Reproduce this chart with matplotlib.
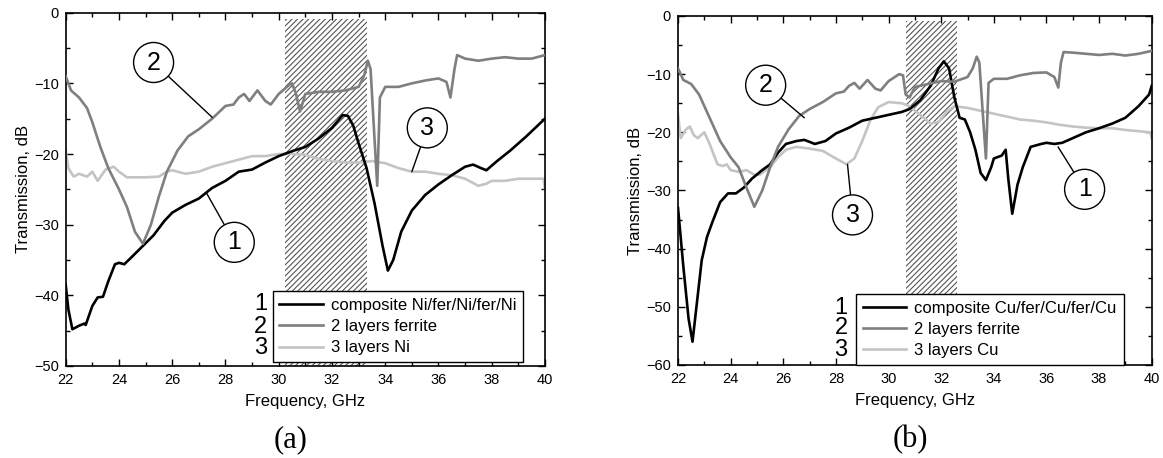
import numpy as np
import matplotlib.pyplot as plt
from matplotlib.patches import Rectangle
from matplotlib.ticker import MultipleLocator

plt.rcParams['font.family'] = ['Liberation Sans', 'DejaVu Sans']
plt.rcParams['hatch.linewidth'] = 0.8

# ---- panel (a) : Ni composite ----
a_comp_f = [22.0, 22.1, 22.25, 22.5, 22.7, 22.75, 23.0, 23.2, 23.4, 23.6, 23.85, 24.0, 24.2, 24.5,
            24.9, 25.3, 25.7, 26.0, 26.5, 27.0, 27.5, 28.0, 28.5, 29.0, 29.5, 30.0, 30.5, 31.0,
            31.5, 32.0, 32.4, 32.6, 32.8, 33.0, 33.3, 33.6, 33.9, 34.1, 34.3, 34.6, 35.0, 35.5,
            36.0, 36.5, 37.0, 37.3, 37.6, 37.8, 38.2, 38.7, 39.3, 40.0]
a_comp_db = [-38.5, -42, -44.8, -44.3, -44, -44.2, -41.5, -40.3, -40.2, -38, -35.6, -35.4, -35.6, -34.5,
             -33, -31.5, -29.5, -28.3, -27.2, -26.3, -24.8, -23.8, -22.5, -22.2, -21.2, -20.3, -19.6, -19,
             -17.8, -16.3, -14.5, -14.6, -16, -18.5, -22, -27, -33, -36.5, -35, -31, -28, -25.8,
             -24.3, -23, -21.8, -21.5, -22, -22.3, -21, -19.5, -17.5, -15]

a_fer_f = [22.0, 22.2, 22.5, 22.8, 23.0, 23.3, 23.6, 24.0, 24.3, 24.6, 24.9, 25.2, 25.5, 25.8, 26.2,
           26.6, 27.0, 27.5, 28.0, 28.3, 28.5, 28.7, 28.9, 29.2, 29.5, 29.7, 30.0, 30.4, 30.5, 30.65,
           30.8, 31.0, 31.5, 32.0, 32.5, 33.0, 33.2, 33.35, 33.45, 33.6, 33.7, 33.8, 34.0, 34.5, 35.0,
           35.5, 36.0, 36.3, 36.45, 36.6, 36.7, 37.0, 37.5, 38.0, 38.5, 39.0, 39.5, 40.0]
a_fer_db = [-9, -11, -12, -13.5, -15.5, -19, -22, -25, -27.5, -31, -32.7, -30, -26, -22.5, -19.5,
            -17.5, -16.5, -15, -13.2, -13, -12, -11.5, -12.5, -11, -12.5, -13, -11.5, -10.2, -10, -11.5,
            -14, -11.5, -11.2, -11.2, -11, -10.5, -9, -6.8, -8, -18, -24.5, -12, -10.5, -10.5, -10,
            -9.6, -9.3, -9.8, -12, -8, -6, -6.5, -6.8, -6.5, -6.3, -6.5, -6.5, -6]

a_ni_f = [22.0, 22.1, 22.3, 22.5, 22.8, 23.0, 23.2, 23.5, 23.8, 24.0, 24.3, 25.0, 25.5, 25.8, 26.0,
          26.5, 27.0, 27.5, 28.0, 28.5, 29.0, 29.5, 30.0, 30.5, 31.0, 31.5, 32.0, 32.5, 33.0, 33.5,
          34.0, 34.5, 35.0, 35.5, 36.0, 36.5, 37.0, 37.5, 37.8, 38.0, 38.5, 39.0, 39.5, 39.95, 40.0]
a_ni_db = [-19.5, -22, -23.2, -22.8, -23.2, -22.5, -23.8, -22.2, -21.8, -22.5, -23.3, -23.3, -23.2, -22.5, -22.3,
           -22.8, -22.5, -21.8, -21.3, -20.8, -20.3, -20.3, -20, -20, -20.1, -20.7, -21, -21.2, -21.2, -21,
           -21.3, -22, -22.5, -22.5, -22.8, -23, -23.5, -24.5, -24.2, -23.8, -23.8, -23.5, -23.5, -23.5, -25]

# ---- panel (b) : Cu composite ----
b_comp_f = [22.0, 22.2, 22.4, 22.55, 22.7, 22.9, 23.1, 23.3, 23.6, 23.9, 24.2, 24.5, 24.8, 25.2, 25.5,
            25.8, 26.1, 26.5, 26.8, 27.2, 27.6, 28.0, 28.5, 29.0, 29.5, 30.0, 30.5, 30.8, 31.2, 31.6,
            31.9, 32.1, 32.3, 32.5, 32.7, 32.9, 33.1, 33.3, 33.5, 33.7, 33.9, 34.0, 34.3, 34.45, 34.55,
            34.7, 34.9, 35.1, 35.4, 35.8, 36.0, 36.3, 36.6, 37.0, 37.5, 38.0, 38.5, 39.0, 39.5, 39.9, 40.0]
b_comp_db = [-33, -43, -52, -56, -50, -42, -38, -35.5, -32, -30.5, -30.5, -29.5, -28, -26.5, -25.5,
             -23.5, -22, -21.5, -21.3, -22, -21.5, -20.2, -19.2, -18, -17.5, -17, -16.5, -16, -14.5, -12,
             -9, -7.8, -9, -14, -17.5, -17.8, -20, -23, -27, -28.2, -26, -24.5, -24, -23, -28,
             -34, -29, -26, -22.5, -22, -21.8, -22, -21.8, -21, -20, -19.3, -18.5, -17.5, -15.5, -13.5, -12]

b_fer_f = [22.0, 22.2, 22.5, 22.8, 23.0, 23.3, 23.6, 24.0, 24.3, 24.6, 24.9, 25.2, 25.5, 25.8, 26.2,
           26.6, 27.0, 27.5, 28.0, 28.3, 28.5, 28.7, 28.9, 29.2, 29.5, 29.7, 30.0, 30.4, 30.55, 30.65,
           30.8, 31.0, 31.5, 32.0, 32.5, 33.0, 33.2, 33.35, 33.45, 33.6, 33.7, 33.8, 34.0, 34.5, 35.0,
           35.5, 36.0, 36.3, 36.45, 36.55, 36.65, 37.0, 37.5, 38.0, 38.5, 39.0, 39.5, 40.0]
b_fer_db = [-9, -11, -11.7, -13.5, -15.5, -18.5, -21.5, -24.3, -26, -29.5, -32.8, -30, -26, -22.5, -19.5,
            -17.2, -16, -14.8, -13.3, -13, -12, -11.5, -12.5, -11, -12.5, -12.8, -11.2, -10, -10.2, -13.5,
            -14, -12.2, -11.7, -11.2, -11.3, -10.5, -9, -7, -8, -18, -24.5, -11.5, -10.8, -10.8, -10.2,
            -9.8, -9.7, -10.5, -12.3, -8, -6.2, -6.3, -6.5, -6.7, -6.5, -6.8, -6.5, -6]

b_cu_f = [22.0, 22.1, 22.3, 22.45, 22.6, 22.75, 23.0, 23.2, 23.5, 23.7, 23.85, 24.0, 24.3, 24.6, 24.9,
          25.1, 25.5, 25.8, 26.1, 26.5, 27.0, 27.5, 28.0, 28.4, 28.7, 29.0, 29.3, 29.6, 30.0, 30.5,
          30.8, 31.2, 31.6, 31.9, 32.2, 32.5, 33.0, 33.5, 34.0, 34.5, 35.0, 35.5, 36.0, 36.5, 37.0,
          37.5, 38.0, 38.5, 39.0, 39.5, 39.95, 40.0]
b_cu_db = [-17, -21, -19.5, -19, -20.5, -21, -20, -22, -25.5, -25.8, -25.5, -26.5, -26.8, -26.5, -27.3,
           -27.3, -26, -24.3, -23, -22.5, -22.8, -23.2, -24.5, -25.5, -24.5, -21.5, -18, -15.7, -14.8, -15,
           -15.5, -17, -18.5, -18.2, -16.5, -15.5, -15.8, -16.3, -16.8, -17.3, -17.8, -18, -18.3, -18.7, -19,
           -19.2, -19.3, -19.3, -19.6, -19.8, -20, -21]

labels_a = ['composite Ni/fer/Ni/fer/Ni', '2 layers ferrite', '3 layers Ni']
labels_b = ['composite Cu/fer/Cu/fer/Cu', '2 layers ferrite', '3 layers Cu']
colors = ['black', '#7f7f7f', '#c4c4c4']


def style_axes(ax, ymin, ymax):
    ax.set_xlim(22, 40)
    ax.set_ylim(ymin, ymax)
    ax.xaxis.set_major_locator(MultipleLocator(2))
    ax.xaxis.set_minor_locator(MultipleLocator(1))
    ax.yaxis.set_major_locator(MultipleLocator(10))
    ax.yaxis.set_minor_locator(MultipleLocator(5))
    ax.tick_params(which='both', direction='in', top=True, right=True, labelsize=10.5)
    ax.tick_params(which='major', length=5, width=1, pad=5)
    ax.tick_params(which='minor', length=3, width=1)
    for s in ax.spines.values():
        s.set_linewidth(1.2)
    ax.set_xlabel('Frequency, GHz', fontsize=12, labelpad=5)
    ax.set_ylabel('Transmission, dB', fontsize=12, labelpad=2)


def circle_label(ax, num, center, target):
    ax.annotate(num, xy=target, xytext=center, fontsize=18, ha='center', va='center',
                bbox=dict(boxstyle='circle,pad=0.32', fc='white', ec='black', lw=1),
                arrowprops=dict(arrowstyle='-', color='black', lw=1, shrinkA=0, shrinkB=0),
                zorder=6)


def add_legend(ax, lines, labels, x0, y0, num_x, num_ys):
    leg = ax.legend(lines, labels, loc='lower left', bbox_to_anchor=(x0, y0), borderaxespad=0,
                    fontsize=12, handlelength=2.6, handletextpad=0.5, labelspacing=0.38,
                    frameon=True, fancybox=False, edgecolor='black', framealpha=1,
                    borderpad=0.4)
    leg.get_frame().set_linewidth(1)
    leg.set_zorder(5)
    for n, yy in zip(['1', '2', '3'], num_ys):
        ax.text(num_x, yy, n, transform=ax.transAxes, fontsize=17, ha='center', va='center', zorder=7)


fig = plt.figure(figsize=(11.63, 4.58), dpi=100)

# panel (a)
ax1 = fig.add_axes([0.0565, 0.2009, 0.4121, 0.7714])
style_axes(ax1, -50, 0)
ax1.add_patch(Rectangle((30.25, -50), 3.05, 49.1, facecolor='white', edgecolor='#555555',
                        hatch='//////', lw=0, zorder=1))
l1, = ax1.plot(a_comp_f, a_comp_db, color=colors[0], lw=1.9, zorder=3)
l2, = ax1.plot(a_fer_f, a_fer_db, color=colors[1], lw=1.9, zorder=3)
l3, = ax1.plot(a_ni_f, a_ni_db, color=colors[2], lw=1.9, zorder=2)
circle_label(ax1, '2', (25.3, -7.05), (27.5, -14.8))
circle_label(ax1, '1', (28.33, -32.5), (27.3, -25.6))
circle_label(ax1, '3', (35.58, -16.3), (35.0, -22.5))
add_legend(ax1, [l1, l2, l3], labels_a, 0.432, 0.011, 0.407, [0.175, 0.111, 0.05])
fig.text(291 / 1163, 1 - 440 / 458, '(a)', family='Liberation Serif', fontsize=22, ha='center', va='center')

# panel (b)
ax2 = fig.add_axes([0.5830, 0.2031, 0.4073, 0.7620])
style_axes(ax2, -60, 0)
ax2.add_patch(Rectangle((30.68, -60), 1.92, 59.2, facecolor='white', edgecolor='#555555',
                        hatch='//////', lw=0, zorder=1))
m1, = ax2.plot(b_comp_f, b_comp_db, color=colors[0], lw=1.9, zorder=3)
m2, = ax2.plot(b_fer_f, b_fer_db, color=colors[1], lw=1.9, zorder=3)
m3, = ax2.plot(b_cu_f, b_cu_db, color=colors[2], lw=1.9, zorder=2)
circle_label(ax2, '2', (25.33, -11.9), (26.8, -17.5))
circle_label(ax2, '3', (28.63, -34.2), (28.44, -25.5))
circle_label(ax2, '1', (37.45, -29.8), (36.44, -22.5))
add_legend(ax2, [m1, m2, m3], labels_b, 0.376, 0.0, 0.344, [0.163, 0.106, 0.043])
fig.text(910 / 1163, 1 - 440 / 458, '(b)', family='Liberation Serif', fontsize=22, ha='center', va='center')

fig.savefig('out.png', dpi=100)
